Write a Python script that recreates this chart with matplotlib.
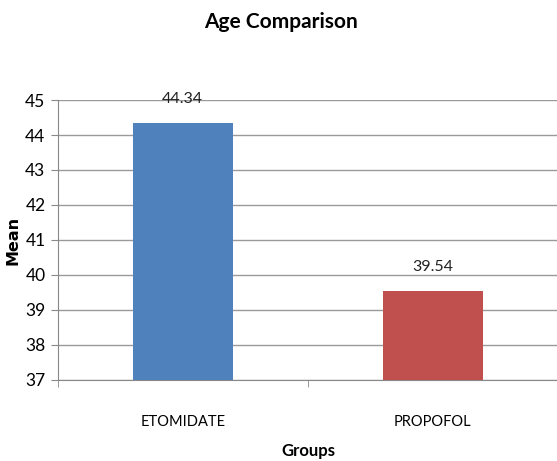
import matplotlib
matplotlib.use("Agg")
import matplotlib.pyplot as plt

categories = ["ETOMIDATE", "PROPOFOL"]
means = [44.34, 39.54]
colors = ["#4F81BD", "#C0504D"]
yticks = [37, 38, 39, 40, 41, 42, 43, 44, 45]

plt.rcParams['font.family'] = ['Lato', 'DejaVu Sans']

W, H = 557, 461
fig = plt.figure(figsize=(W / 100, H / 100), dpi=100)
ax = fig.add_axes([0.104, 0.176, 0.897, 0.607])

x = list(range(len(categories)))
ax.bar(x, [m - 37 for m in means], bottom=37, width=0.4, color=colors, zorder=3)
for xi, m in zip(x, means):
    ax.text(xi, m + 0.5, f"{m:.2f}", ha="center", va="bottom", fontsize=11.5, color="#222222")

ax.set_xlim(-0.5, 1.5)
ax.set_ylim(37, 45)
ax.set_yticks(yticks)
ax.set_yticklabels([str(t) for t in yticks], fontsize=12.5)
ax.yaxis.grid(True, color="#9a9a9a", linewidth=1, zorder=0)
ax.set_xticks(x)
ax.set_xticklabels(categories, fontsize=10.5)
ax.set_xticks([-0.5, 0.5, 1.5], minor=True)
ax.tick_params(axis="x", which="major", length=0, pad=25)
ax.tick_params(axis="x", which="minor", length=5, color="#888888")
ax.tick_params(axis="y", length=5, color="#888888", pad=4)

for s in ["top", "right"]:
    ax.spines[s].set_visible(False)
ax.spines["left"].set_color("#888888")
ax.spines["bottom"].set_color("#888888")

fig.text(13 / W, 1 - 240 / H, "Mean", rotation=90, ha="center", va="center",
         fontsize=11.5, fontweight="bold", family="DejaVu Sans")
fig.text(308 / W, 1 - 451 / H, "Groups", ha="center", va="center",
         fontsize=12, fontweight="bold")
fig.text(281 / W, 1 - 22 / H, "Age Comparison", ha="center", va="center",
         fontsize=15, fontweight="bold")

fig.savefig("out.png", dpi=100)
